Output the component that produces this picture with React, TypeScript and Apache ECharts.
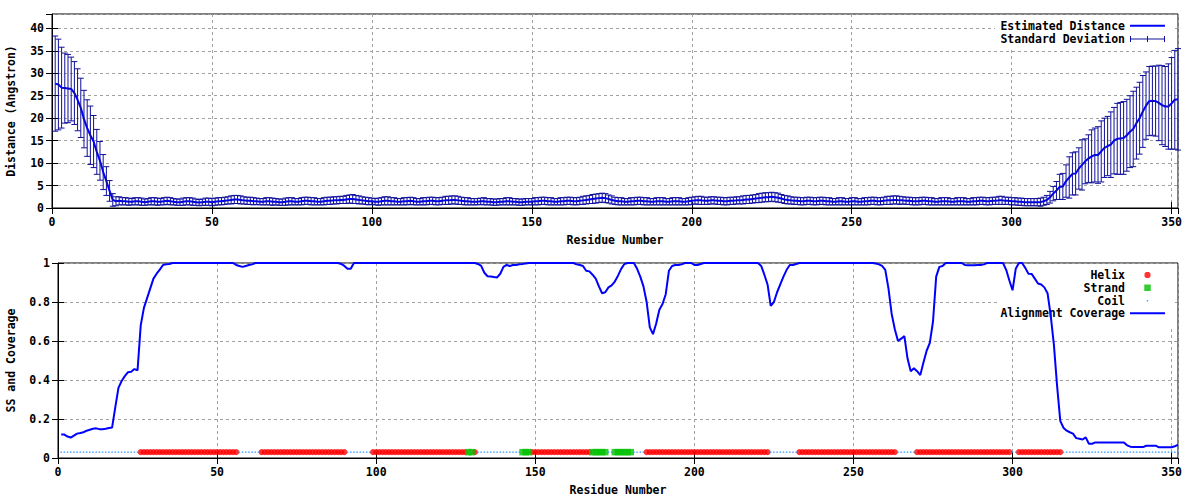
import React, { useEffect, useRef } from "react";
import * as echarts from "echarts";

// ---- Top panel: estimated distance (Angstrom) per residue, and its standard deviation
const DIST_MEAN: number[] = [
  27.7, 27.5, 26.8, 26.7, 26.6, 26.5, 25.6, 24.1, 22.3, 19.8,
  17.8, 16.2, 14.8, 12.5, 10.5, 8.0, 6.0, 3.8, 1.8, 1.5,
  1.6, 1.5, 1.5, 1.4, 1.4, 1.5, 1.5, 1.4, 1.3, 1.4,
  1.5, 1.5, 1.4, 1.4, 1.5, 1.6, 1.5, 1.4, 1.3, 1.3,
  1.4, 1.5, 1.5, 1.4, 1.3, 1.2, 1.3, 1.4, 1.4, 1.3,
  1.4, 1.5, 1.5, 1.6, 1.7, 1.8, 1.9, 1.9, 1.8, 1.7,
  1.6, 1.6, 1.5, 1.5, 1.4, 1.4, 1.5, 1.5, 1.4, 1.4,
  1.3, 1.3, 1.4, 1.5, 1.5, 1.4, 1.4, 1.5, 1.6, 1.6,
  1.5, 1.5, 1.4, 1.4, 1.5, 1.6, 1.6, 1.7, 1.7, 1.8,
  1.8, 1.9, 2.0, 2.0, 1.9, 1.8, 1.7, 1.6, 1.5, 1.5,
  1.4, 1.4, 1.5, 1.6, 1.6, 1.5, 1.5, 1.4, 1.4, 1.5,
  1.5, 1.6, 1.5, 1.4, 1.4, 1.5, 1.5, 1.6, 1.6, 1.5,
  1.5, 1.6, 1.7, 1.7, 1.8, 1.8, 1.7, 1.6, 1.5, 1.5,
  1.4, 1.4, 1.4, 1.5, 1.5, 1.4, 1.4, 1.3, 1.3, 1.4,
  1.4, 1.5, 1.5, 1.4, 1.4, 1.3, 1.3, 1.4, 1.4, 1.4,
  1.5, 1.5, 1.6, 1.6, 1.5, 1.5, 1.4, 1.4, 1.5, 1.5,
  1.6, 1.6, 1.5, 1.5, 1.6, 1.7, 1.8, 1.9, 2.0, 2.1,
  2.2, 2.3, 2.2, 2.0, 1.8, 1.6, 1.5, 1.5, 1.4, 1.4,
  1.5, 1.5, 1.6, 1.6, 1.5, 1.5, 1.4, 1.4, 1.5, 1.5,
  1.5, 1.4, 1.4, 1.5, 1.5, 1.5, 1.4, 1.4, 1.5, 1.6,
  1.7, 1.7, 1.7, 1.6, 1.6, 1.7, 1.7, 1.6, 1.6, 1.5,
  1.5, 1.6, 1.6, 1.7, 1.7, 1.8, 1.9, 1.9, 2.0, 2.1,
  2.2, 2.3, 2.4, 2.4, 2.5, 2.4, 2.3, 2.1, 1.9, 1.8,
  1.7, 1.6, 1.6, 1.5, 1.5, 1.6, 1.6, 1.5, 1.5, 1.6,
  1.6, 1.5, 1.5, 1.4, 1.4, 1.5, 1.5, 1.4, 1.4, 1.5,
  1.5, 1.4, 1.4, 1.5, 1.5, 1.6, 1.6, 1.5, 1.5, 1.6,
  1.7, 1.7, 1.8, 1.8, 1.7, 1.7, 1.6, 1.6, 1.5, 1.5,
  1.5, 1.6, 1.6, 1.5, 1.5, 1.4, 1.4, 1.5, 1.5, 1.5,
  1.4, 1.4, 1.5, 1.5, 1.5, 1.4, 1.4, 1.5, 1.5, 1.6,
  1.6, 1.5, 1.5, 1.6, 1.6, 1.7, 1.7, 1.6, 1.6, 1.5,
  1.5, 1.4, 1.4, 1.3, 1.3, 1.3, 1.3, 1.3, 1.3, 1.5,
  1.8, 2.4, 3.2, 3.9, 4.7, 4.8, 6.0, 6.8, 7.6, 7.7,
  8.8, 9.6, 10.4, 11.0, 11.5, 11.8, 11.8, 12.6, 13.4, 13.8,
  14.1, 15.0, 15.4, 15.5, 15.6, 16.2, 17.0, 17.6, 18.9, 20.0,
  21.5, 22.8, 23.8, 23.9, 23.8, 23.4, 22.9, 22.6, 22.6, 23.3,
  24.1, 24.2,
];

const DIST_STD: number[] = [
  10.6, 10.1, 9.0, 7.8, 7.6, 7.1, 7.0, 6.9, 6.6, 6.4,
  6.3, 6.5, 5.8, 5.0, 4.3, 3.9, 3.2, 2.3, 1.4, 1.0,
  0.9, 0.8, 0.8, 0.8, 0.7, 0.8, 0.8, 0.8, 0.7, 0.7,
  0.8, 0.8, 0.8, 0.7, 0.8, 0.8, 0.8, 0.7, 0.7, 0.7,
  0.8, 0.8, 0.8, 0.8, 0.7, 0.7, 0.7, 0.8, 0.8, 0.8,
  0.8, 0.8, 0.8, 0.8, 0.8, 0.9, 0.9, 0.9, 0.9, 0.8,
  0.8, 0.8, 0.8, 0.7, 0.7, 0.7, 0.8, 0.8, 0.8, 0.7,
  0.7, 0.7, 0.8, 0.8, 0.8, 0.7, 0.7, 0.8, 0.8, 0.8,
  0.8, 0.8, 0.7, 0.7, 0.8, 0.8, 0.8, 0.8, 0.8, 0.8,
  0.8, 0.9, 0.9, 1.0, 0.9, 0.9, 0.8, 0.8, 0.8, 0.7,
  0.7, 0.8, 0.8, 0.9, 0.9, 0.8, 0.8, 0.7, 0.7, 0.8,
  0.8, 0.8, 0.8, 0.7, 0.7, 0.8, 0.8, 0.8, 0.8, 0.8,
  0.8, 0.8, 0.9, 0.9, 0.9, 0.9, 0.9, 0.8, 0.8, 0.8,
  0.7, 0.7, 0.7, 0.7, 0.8, 0.7, 0.7, 0.7, 0.7, 0.7,
  0.7, 0.8, 0.8, 0.7, 0.7, 0.7, 0.7, 0.7, 0.7, 0.7,
  0.8, 0.8, 0.8, 0.8, 0.8, 0.8, 0.7, 0.7, 0.8, 0.8,
  0.8, 0.8, 0.8, 0.8, 0.8, 0.9, 0.9, 0.9, 1.0, 1.0,
  1.0, 1.0, 1.0, 0.9, 0.9, 0.8, 0.8, 0.8, 0.7, 0.7,
  0.8, 0.8, 0.8, 0.8, 0.8, 0.8, 0.7, 0.7, 0.8, 0.8,
  0.8, 0.7, 0.7, 0.8, 0.8, 0.8, 0.7, 0.7, 0.8, 0.8,
  0.8, 0.9, 0.9, 0.8, 0.8, 0.8, 0.8, 0.8, 0.8, 0.8,
  0.8, 0.8, 0.8, 0.8, 0.8, 0.9, 0.9, 0.9, 0.9, 0.9,
  1.0, 1.0, 1.0, 1.0, 1.0, 1.0, 1.0, 0.9, 0.9, 0.9,
  0.8, 0.8, 0.8, 0.8, 0.8, 0.8, 0.8, 0.8, 0.8, 0.8,
  0.8, 0.8, 0.8, 0.7, 0.7, 0.8, 0.8, 0.7, 0.7, 0.8,
  0.8, 0.7, 0.7, 0.8, 0.8, 0.8, 0.8, 0.8, 0.8, 0.8,
  0.9, 0.9, 0.9, 0.9, 0.9, 0.8, 0.8, 0.8, 0.8, 0.8,
  0.8, 0.8, 0.8, 0.8, 0.8, 0.7, 0.7, 0.8, 0.8, 0.8,
  0.7, 0.7, 0.8, 0.8, 0.8, 0.7, 0.7, 0.8, 0.8, 0.8,
  0.8, 0.8, 0.8, 0.8, 0.8, 0.9, 0.9, 0.8, 0.8, 0.8,
  0.8, 0.8, 0.8, 0.8, 0.8, 0.8, 0.8, 0.8, 0.9, 0.9,
  1.0, 1.3, 1.6, 2.0, 2.8, 2.9, 3.6, 4.6, 4.7, 4.8,
  4.6, 5.6, 5.0, 5.3, 5.9, 6.0, 6.3, 6.8, 6.6, 6.6,
  7.3, 7.4, 7.9, 8.0, 8.1, 8.0, 8.0, 8.4, 8.0, 8.0,
  8.0, 7.5, 7.7, 7.7, 7.8, 8.4, 8.8, 8.9, 9.5, 10.2,
  11.0, 11.3,
];

// ---- Bottom panel: alignment coverage per residue
const COVERAGE: number[] = [
  0.12, 0.12, 0.11, 0.105, 0.115, 0.125, 0.128, 0.132, 0.14, 0.145,
  0.15, 0.152, 0.148, 0.147, 0.15, 0.154, 0.156, 0.26, 0.36, 0.395,
  0.42, 0.44, 0.442, 0.456, 0.45, 0.68, 0.77, 0.82, 0.87, 0.92,
  0.945, 0.966, 0.99, 0.993, 0.995, 1, 1, 1, 1, 1,
  1, 1, 1, 1, 1, 1, 1, 1, 1, 1,
  1, 1, 1, 1, 1, 0.99, 0.985, 0.98, 0.985, 0.99,
  0.993, 1, 1, 1, 1, 1, 1, 1, 1, 1,
  1, 1, 1, 1, 1, 1, 1, 1, 1, 1,
  1, 1, 1, 1, 1, 1, 1, 1, 0.995, 0.985,
  0.97, 0.97, 1, 1, 1, 1, 1, 1, 1, 1,
  1, 1, 1, 1, 1, 1, 1, 1, 1, 1,
  1, 1, 1, 1, 1, 1, 1, 1, 1, 1,
  1, 1, 1, 1, 1, 1, 1, 1, 1, 1,
  1, 0.995, 0.985, 0.95, 0.932, 0.931, 0.928, 0.926, 0.945, 0.98,
  0.99, 0.985, 0.99, 0.99, 0.993, 0.995, 0.998, 1, 1, 1,
  1, 1, 1, 1, 1, 1, 1, 1, 1, 1,
  1, 1, 0.993, 0.99, 0.985, 0.96, 0.957, 0.94, 0.92, 0.88,
  0.845, 0.85, 0.875, 0.885, 0.905, 0.935, 0.97, 0.995, 1, 1,
  1, 0.97, 0.93, 0.88, 0.8, 0.67, 0.635, 0.69, 0.76, 0.79,
  0.84, 0.96, 0.985, 0.99, 0.99, 0.993, 1, 1, 1, 0.99,
  0.99, 0.995, 1, 1, 1, 1, 1, 1, 1, 1,
  1, 1, 1, 1, 1, 1, 1, 1, 1, 1,
  0.985, 0.94, 0.89, 0.78, 0.8, 0.85, 0.89, 0.93, 0.965, 0.99,
  0.99, 0.995, 1, 1, 1, 1, 1, 1, 1, 1,
  1, 1, 1, 1, 1, 1, 1, 1, 1, 1,
  1, 1, 1, 1, 1, 1, 0.997, 0.993, 0.985, 0.965,
  0.87, 0.74, 0.66, 0.6, 0.612, 0.625, 0.51, 0.445, 0.46, 0.445,
  0.425, 0.49, 0.55, 0.59, 0.7, 0.93, 0.98, 0.985, 1, 1,
  1, 1, 1, 1, 0.99, 0.988, 0.988, 0.988, 0.99, 0.99,
  0.993, 1, 1, 1, 1, 1, 1, 0.965, 0.91, 0.86,
  0.97, 1, 1, 0.975, 0.945, 0.944, 0.92, 0.895, 0.89, 0.875,
  0.845, 0.73, 0.58, 0.37, 0.19, 0.155, 0.14, 0.132, 0.125, 0.102,
  0.099, 0.095, 0.106, 0.073, 0.073, 0.08, 0.08, 0.08, 0.08, 0.08,
  0.08, 0.08, 0.08, 0.08, 0.08, 0.065, 0.058, 0.056, 0.056, 0.056,
  0.056, 0.063, 0.063, 0.063, 0.063, 0.055, 0.055, 0.055, 0.055, 0.055,
  0.06, 0.068,
];

// ---- Secondary structure per residue (H helix, E strand, C coil), 10 per group
const SS_STRING =
  "CCCCCCCCCC CCCCCCCCCC CCCCCHHHHH HHHHHHHHHH HHHHHHHHHH " +
  "HHHHHHCCCC CCCHHHHHHH HHHHHHHHHH HHHHHHHHHH CCCCCCCCHH " +
  "HHHHHHHHHH HHHHHHHHHH HHHHHHHHEE HCCCCCCCCC CCCCCEEEHH " +
  "HHHHHHHHHH HHHHHHHEEE EECCEEEEEE CCCCHHHHHH HHHHHHHHHH " +
  "HHHHHHHHHH HHHHHHHHHH HHHCCCCCCC CCHHHHHHHH HHHHHHHHHH " +
  "HHHHHHHHHH HHHCCCCCCH HHHHHHHHHH HHHHHHHHHH HHHHHHHHHC " +
  "CHHHHHHHHH HHHHHCCCCC CCCCCCCCCC CCCCCCCCCC CCCCCCCCCC CC";
const SS_LEVEL = 0.03;

const X_MAX = 352;
const TOP_Y_MAX = 43.2;

const FONT = '"DejaVu Sans Mono", "Liberation Mono", monospace';
const FS = 11.5;

// legend icons, all 35 px wide so that the texts line up on the right
const LINE_ICON = "path://M0,0H35V2H0Z";
const ERRBAR_ICON = "path://M0,2.5H35V3.5H0Z M0,0H1V6H0Z M17,0H18V6H17Z M34,0H35V6H34Z";
const HELIX_ICON = "path://M0,0L0.01,0L0,0.01Z M34.99,6L35,6L35,5.99Z M16,0H19L20.5,1.5V4.5L19,6H16L14.5,4.5V1.5Z";
const STRAND_ICON = "path://M0,0L0.01,0L0,0.01Z M34.99,6.5L35,6.5L35,6.49Z M14.25,0H20.75V6.5H14.25Z";
const COIL_ICON = "path://M0,0L0.01,0L0,0.01Z M34.99,1.5L35,1.5L35,1.49Z M16.75,0H18.25V1.5H16.75Z";

export default function App() {
  const ref = useRef<HTMLDivElement>(null);

  useEffect(() => {
    if (!ref.current) return;
    const chart = echarts.init(ref.current, undefined, { renderer: "svg" });

    const residues = DIST_MEAN.map((_, i) => i + 1);
    const meanData = residues.map((r, i) => [r, DIST_MEAN[i]]);
    const errData = residues.map((r, i) => [r, DIST_MEAN[i] - DIST_STD[i], DIST_MEAN[i] + DIST_STD[i]]);
    const covData = COVERAGE.map((v, i) => [i + 1, v]);
    const ss = SS_STRING.replace(/ /g, "").split("");
    const helix: number[][] = [];
    const strand: number[][] = [];
    const coil: number[][] = [];
    ss.forEach((c, i) => {
      const p = [i + 1, SS_LEVEL];
      if (c === "H") helix.push(p);
      else if (c === "E") strand.push(p);
      else coil.push(p);
    });

    const labelStyle = { fontFamily: FONT, fontWeight: "bold", fontSize: FS, color: "#000" };
    const split = { show: true, lineStyle: { color: "#a0a0a0", type: [3, 3], width: 1 } };
    const tick = { show: true, inside: true, length: 6, lineStyle: { color: "#000" } };
    const line = { show: true, lineStyle: { color: "#000", width: 1 } };

    const mainX = (gi: number) => ({
      type: "value",
      gridIndex: gi,
      min: 0,
      max: X_MAX,
      interval: 50,
      position: "bottom",
      name: "Residue Number",
      nameLocation: "middle",
      nameGap: 26,
      nameTextStyle: labelStyle,
      axisLine: line,
      axisTick: tick,
      axisLabel: { ...labelStyle, margin: 8, showMaxLabel: false },
      splitLine: split,
    });
    const mirrorX = (gi: number) => ({
      type: "value",
      gridIndex: gi,
      min: 0,
      max: X_MAX,
      interval: 50,
      position: "top",
      z: 5,
      axisLine: { show: false },
      axisTick: tick,
      axisLabel: { show: false },
      splitLine: { show: false },
    });

    const legendBase = {
      orient: "horizontal",
      align: "right",
      padding: 0,
      itemGap: 0,
      selectedMode: false,
      itemWidth: 35,
      textStyle: { ...labelStyle, lineHeight: 12 },
    };

    const option: any = {
      animation: false,
      backgroundColor: "#fff",
      textStyle: labelStyle,
      grid: [
        { left: 52, width: 1126, top: 14, height: 194, show: true, borderColor: "#000", borderWidth: 1, containLabel: false, outerBoundsMode: "none" },
        { left: 58, width: 1120, top: 263, height: 195, show: true, borderColor: "#000", borderWidth: 1, containLabel: false, outerBoundsMode: "none" },
      ],
      xAxis: [mainX(0), mainX(1), mirrorX(0), mirrorX(1)],
      yAxis: [
        {
          type: "value", gridIndex: 0, min: 0, max: TOP_Y_MAX, interval: 5,
          name: "Distance (Angstron)", nameLocation: "middle", nameGap: 35, nameRotate: 90,
          nameTextStyle: labelStyle,
          axisLine: line, axisTick: tick,
          axisLabel: { ...labelStyle, margin: 8, showMaxLabel: false },
          splitLine: split,
        },
        {
          type: "value", gridIndex: 1, min: 0, max: 1, interval: 0.2,
          name: "SS and Coverage", nameLocation: "middle", nameGap: 41, nameRotate: 90,
          nameTextStyle: labelStyle,
          axisLine: line, axisTick: tick,
          axisLabel: { ...labelStyle, margin: 8 },
          splitLine: split,
        },
        {
          type: "value", gridIndex: 0, min: 0, max: TOP_Y_MAX, interval: 5, position: "right", z: 5,
          axisLine: { show: false }, axisTick: tick, axisLabel: { show: false }, splitLine: { show: false },
        },
        {
          type: "value", gridIndex: 1, min: 0, max: 1, interval: 0.2, position: "right", z: 5,
          axisLine: { show: false }, axisTick: tick, axisLabel: { show: false }, splitLine: { show: false },
        },
      ],
      legend: [
        { ...legendBase, right: 35, top: 19.7, itemHeight: 2, data: [{ name: "Estimated Distance", icon: LINE_ICON }] },
        { ...legendBase, right: 35, top: 33, itemHeight: 6, data: [{ name: "Standard Deviation", icon: ERRBAR_ICON }] },
        { ...legendBase, right: 35, top: 269, itemHeight: 6, data: [{ name: "Helix", icon: HELIX_ICON }] },
        { ...legendBase, right: 35, top: 281.7, itemHeight: 6.5, data: [{ name: "Strand", icon: STRAND_ICON }] },
        { ...legendBase, right: 35, top: 294.7, itemHeight: 1.5, data: [{ name: "Coil", icon: COIL_ICON }] },
        { ...legendBase, right: 35, top: 307.3, itemHeight: 2, data: [{ name: "Alignment Coverage", icon: LINE_ICON }] },
      ],
      graphic: [
        { type: "rect", z: 1, shape: { x: 995, y: 15, width: 180, height: 32 }, style: { fill: "#fff" }, silent: true },
        { type: "rect", z: 1, shape: { x: 999, y: 264, width: 176, height: 62 }, style: { fill: "#fff" }, silent: true },
      ],
      series: [
        {
          name: "Estimated Distance",
          type: "line",
          xAxisIndex: 0,
          yAxisIndex: 0,
          data: meanData,
          symbol: "none",
          clip: false,
          z: 3,
          lineStyle: { color: "#0000ff", width: 2 },
          itemStyle: { color: "#0000ff" },
        },
        {
          name: "Standard Deviation",
          type: "custom",
          xAxisIndex: 0,
          yAxisIndex: 0,
          data: errData,
          z: 4,
          itemStyle: { color: "#10109a" },
          encode: { x: 0, y: [1, 2] },
          renderItem: (params: any, api: any) => {
            const x = api.value(0);
            const lo = api.value(1);
            const hi = api.value(2);
            const t = api.coord([x, hi]);
            const b = api.coord([x, lo]);
            const w = 3;
            const style = { stroke: "#10109a", lineWidth: 1, fill: "none" };
            return {
              type: "group",
              children: [
                { type: "line", shape: { x1: t[0], y1: t[1], x2: b[0], y2: b[1] }, style },
                { type: "line", shape: { x1: t[0] - w, y1: t[1], x2: t[0] + w, y2: t[1] }, style },
                { type: "line", shape: { x1: b[0] - w, y1: b[1], x2: b[0] + w, y2: b[1] }, style },
              ],
            };
          },
        },
        {
          name: "Helix",
          type: "scatter",
          xAxisIndex: 1,
          yAxisIndex: 1,
          data: helix,
          symbol: "circle",
          symbolSize: 6,
          z: 3,
          itemStyle: { color: "#ff0000" },
        },
        {
          name: "Strand",
          type: "scatter",
          xAxisIndex: 1,
          yAxisIndex: 1,
          data: strand,
          symbol: "rect",
          symbolSize: 6.5,
          z: 4,
          itemStyle: { color: "#00c000" },
        },
        {
          name: "Coil",
          type: "scatter",
          xAxisIndex: 1,
          yAxisIndex: 1,
          data: coil,
          symbol: "rect",
          symbolSize: 1.5,
          z: 4,
          itemStyle: { color: "#1e90ff" },
        },
        {
          name: "Alignment Coverage",
          type: "line",
          xAxisIndex: 1,
          yAxisIndex: 1,
          data: covData,
          symbol: "none",
          clip: false,
          z: 5,
          lineStyle: { color: "#0000ff", width: 2 },
          itemStyle: { color: "#0000ff" },
        },
      ],
    };

    chart.setOption(option);
    return () => chart.dispose();
  }, []);

  return (
    <div
      ref={ref}
      style={{ position: "absolute", left: 0, top: 0, width: 1200, height: 500, background: "#fff" }}
    />
  );
}
